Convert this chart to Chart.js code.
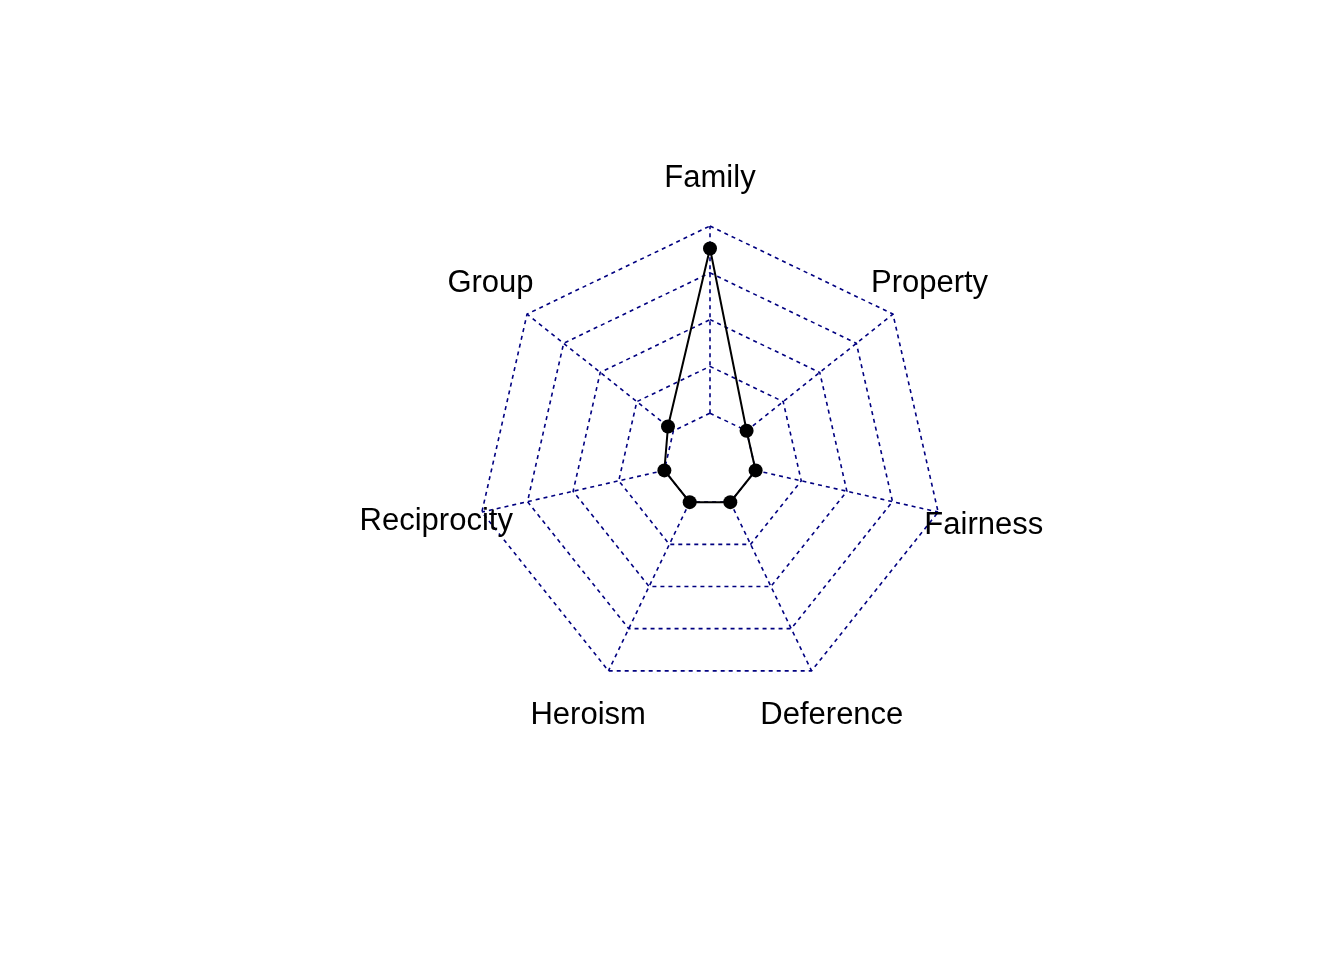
<!DOCTYPE html>
<html><head><meta charset="utf-8">
<script src="https://cdn.jsdelivr.net/npm/chart.js@4/dist/chart.umd.min.js"></script>
<style>html,body{margin:0;padding:0;background:#fff}#wrap{width:1344px;height:960px;position:relative}</style>
</head><body><div id="wrap"><canvas id="c"></canvas></div>
<script>
const categories = ['Family', 'Property', 'Fairness', 'Deference', 'Heroism', 'Reciprocity', 'Group'];
const scores = [0.88, 0, 0, 0, 0, 0, 0.037];
const gridTicks = [0, 0.25, 0.5, 0.75, 1];
const scaleMin = -0.25;
const scaleMax = 1;

const GRID = 'navy';
const LABEL_FONT = '31px "Liberation Sans", Arial, Helvetica, sans-serif';

const radarDecor = {
  id: 'radarDecor',
  beforeDatasetsDraw(chart) {
    const s = chart.scales.r, ctx = chart.ctx;
    ctx.save();
    ctx.strokeStyle = GRID; ctx.lineWidth = 1.6; ctx.setLineDash([4, 4]);
    categories.forEach((_, i) => {
      const a = s.getPointPositionForValue(i, gridTicks[0]);
      const b = s.getPointPositionForValue(i, gridTicks[gridTicks.length - 1]);
      ctx.beginPath(); ctx.moveTo(a.x, a.y); ctx.lineTo(b.x, b.y); ctx.stroke();
    });
    ctx.restore();
  },
  afterDraw(chart) {
    const s = chart.scales.r, ctx = chart.ctx;
    const labelValue = scaleMin + 1.2 * (scaleMax - scaleMin);
    ctx.save();
    ctx.font = LABEL_FONT; ctx.fillStyle = '#000';
    ctx.textAlign = 'center'; ctx.textBaseline = 'alphabetic';
    categories.forEach((lab, i) => {
      const p = s.getPointPositionForValue(i, labelValue);
      const m = ctx.measureText(lab);
      const y = p.y + (m.actualBoundingBoxAscent - m.actualBoundingBoxDescent) / 2;
      ctx.fillText(lab, p.x, y);
    });
    ctx.restore();
  }
};

new Chart(document.getElementById('c'), {
  type: 'radar',
  data: {
    labels: categories,
    datasets: [{
      data: scores,
      borderColor: '#000',
      borderWidth: 2,
      fill: false,
      tension: 0,
      pointRadius: 7,
      pointBackgroundColor: '#000',
      pointBorderWidth: 0,
      pointHoverRadius: 7
    }]
  },
  options: {
    responsive: true,
    maintainAspectRatio: false,
    animation: false,
    devicePixelRatio: 1,
    layout: { padding: { left: 476, right: 400, top: 226, bottom: 266 } },
    plugins: { legend: { display: false }, tooltip: { enabled: false } },
    scales: {
      r: {
        min: scaleMin,
        max: scaleMax,
        afterBuildTicks(scale) {
          scale.ticks = [scaleMin].concat(gridTicks).map(v => ({ value: v }));
        },
        ticks: { display: false },
        pointLabels: { display: false },
        angleLines: { display: false },
        border: { dash: [4, 4] },
        grid: {
          color: ctx => (ctx.tick && ctx.tick.value === scaleMin) ? 'rgba(0,0,0,0)' : GRID,
          lineWidth: 1.6,
          borderDash: [4, 4]
        }
      }
    }
  },
  plugins: [radarDecor]
});
</script>
</body></html>
